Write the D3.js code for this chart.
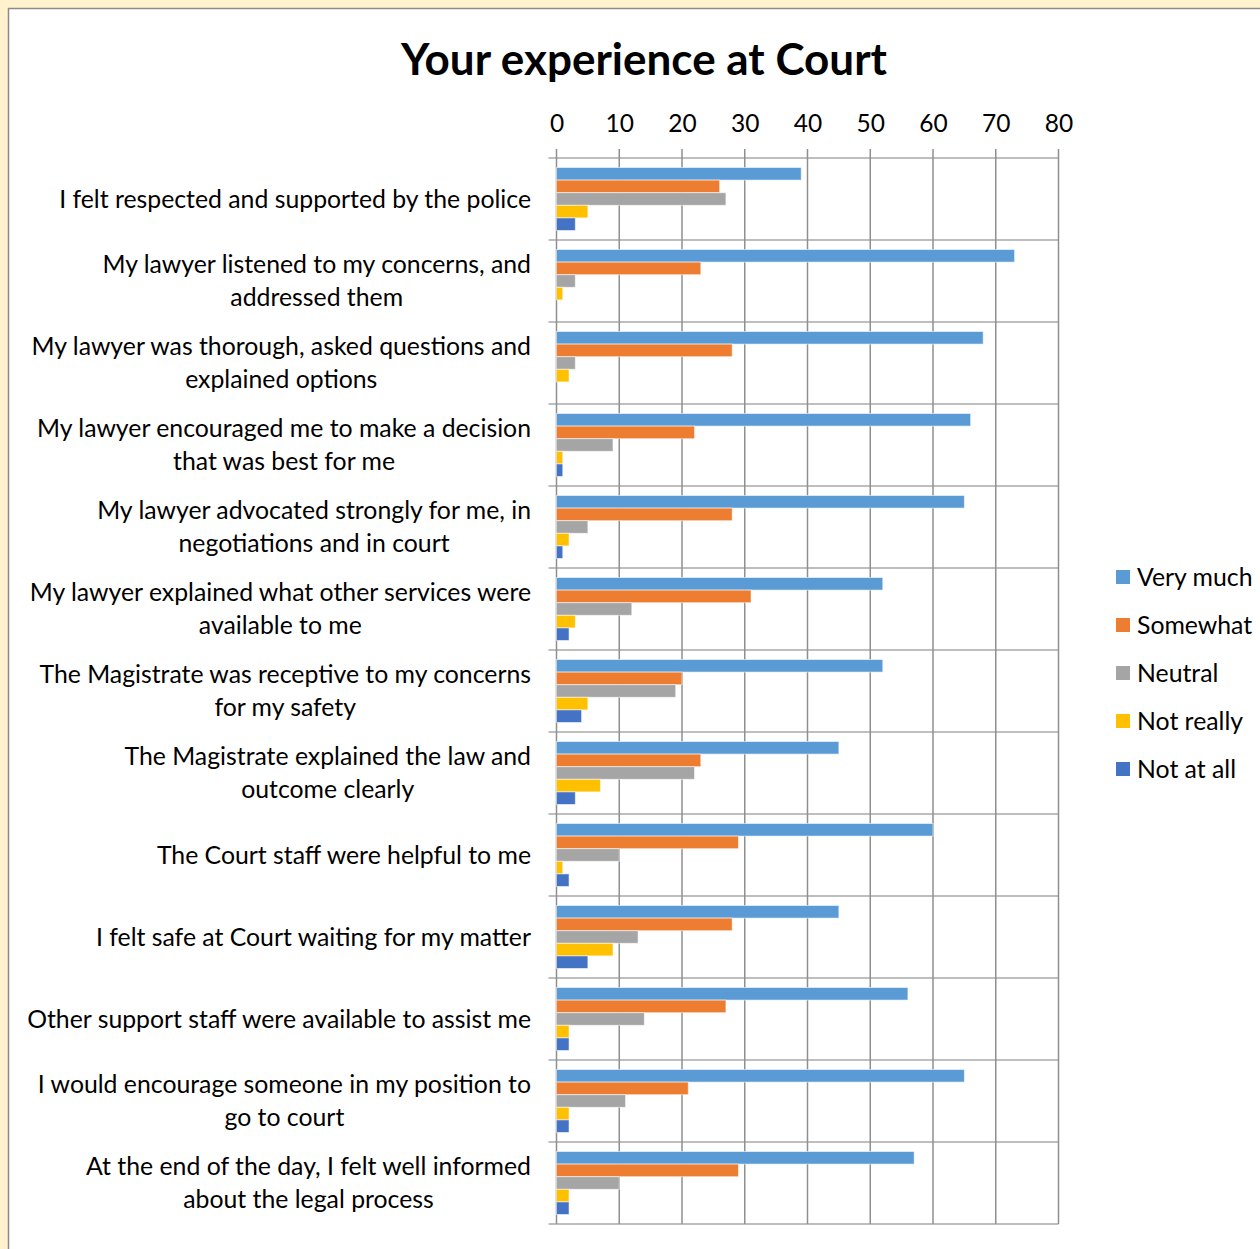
<!DOCTYPE html>
<html>
<head>
<meta charset="utf-8">
<script src="https://cdn.jsdelivr.net/npm/d3@7/dist/d3.min.js"></script>
<style>
  html, body { margin: 0; padding: 0; background: #FFF2CC; }
  svg { display: block; }
  text { font-family: Lato, "Open Sans", sans-serif; fill: #000; }
</style>
</head>
<body>
<svg id="chart" width="1260" height="1249"></svg>
<script>
// Survey questions (line breaks mark where each label wraps)
const categories = [
  "I felt respected and supported by the police",
  "My lawyer listened to my concerns, and\naddressed them",
  "My lawyer was thorough, asked questions and\nexplained options",
  "My lawyer encouraged me to make a decision\nthat was best for me",
  "My lawyer advocated strongly for me, in\nnegotiations and in court",
  "My lawyer explained what other services were\navailable to me",
  "The Magistrate was receptive to my concerns\nfor my safety",
  "The Magistrate explained the law and\noutcome clearly",
  "The Court staff were helpful to me",
  "I felt safe at Court waiting for my matter",
  "Other support staff were available to assist me",
  "I would encourage someone in my position to\ngo to court",
  "At the end of the day, I felt well informed\nabout the legal process"
];

const seriesNames = ["Very much", "Somewhat", "Neutral", "Not really", "Not at all"];
const seriesColors = ["#5B9BD5", "#ED7D31", "#A5A5A5", "#FFC000", "#4472C4"];

const veryMuch  = [39, 73, 68, 66, 65, 52, 52, 45, 60, 45, 56, 65, 57];
const somewhat  = [26, 23, 28, 22, 28, 31, 20, 23, 29, 28, 27, 21, 29];
const neutral   = [27,  3,  3,  9,  5, 12, 19, 22, 10, 13, 14, 11, 10];
const notReally = [ 5,  1,  2,  1,  2,  3,  5,  7,  1,  9,  2,  2,  2];
const notAtAll  = [ 3,  0,  0,  1,  1,  2,  4,  3,  2,  5,  2,  2,  2];
const seriesValues = [veryMuch, somewhat, neutral, notReally, notAtAll];

const tickValues = [0, 10, 20, 30, 40, 50, 60, 70, 80];

const svg = d3.select("#chart");

// panel: white card with a grey edge on the cream page
svg.append("rect")
  .attr("x", 8.5).attr("y", 8.5)
  .attr("width", 1260).attr("height", 1260)
  .attr("fill", "#fff")
  .attr("stroke", "#8a8a8a").attr("stroke-width", 1.5);

svg.append("text")
  .attr("x", 644).attr("y", 75)
  .attr("text-anchor", "middle")
  .attr("font-size", 44).attr("font-weight", 700)
  .text("Your experience at Court");

const x = d3.scaleLinear().domain([0, 80]).range([556.5, 1058.5]);
const y = d3.scaleBand().domain(categories).range([158, 1224]);
const inner = d3.scaleBand().domain(seriesNames)
  .range([9.5, y.bandwidth() - 9.5]);

const plotTop = y.range()[0], plotBottom = y.range()[1];

// category separators with outward ticks
const grid = svg.append("g");
grid.selectAll("line.h")
  .data(categories.concat(["__end"]))
  .join("line")
  .attr("class", "h")
  .attr("x1", x(0) - 8).attr("x2", x(80))
  .attr("y1", (d, i) => plotTop + i * y.step())
  .attr("y2", (d, i) => plotTop + i * y.step())
  .attr("stroke", "#a9a9a9").attr("stroke-width", 1.6);

// value gridlines extending up as ticks
grid.selectAll("line.v")
  .data(tickValues)
  .join("line")
  .attr("class", "v")
  .attr("x1", d => x(d)).attr("x2", d => x(d))
  .attr("y1", plotTop - 9).attr("y2", plotBottom)
  .attr("stroke", "#8f8f8f").attr("stroke-width", 1.5);

// top value axis labels
const xAxis = d3.axisTop(x).tickValues(tickValues).tickSize(0).tickPadding(0);
const ax = svg.append("g").attr("transform", "translate(0,132)").call(xAxis);
ax.select(".domain").remove();
ax.selectAll("text")
  .attr("font-size", 24.5).attr("fill", "#000")
  .attr("font-family", "Lato, 'Open Sans', sans-serif")
  .attr("dy", 0);

// bars
const rows = svg.append("g");
categories.forEach((c, ci) => {
  const g = rows.append("g").attr("transform", `translate(0,${y(c)})`);
  g.selectAll("rect")
    .data(seriesNames.map((s, si) => ({ s, v: seriesValues[si][ci], color: seriesColors[si] })))
    .join("rect")
    .attr("x", x(0))
    .attr("y", d => inner(d.s))
    .attr("height", inner.bandwidth())
    .attr("width", d => x(d.v) - x(0))
    .attr("fill", d => d.color)
    .attr("stroke", d => d.v > 0 ? "#ffffff" : "none")
    .attr("stroke-opacity", 0.55)
    .attr("stroke-width", 1);
});

// category labels: block right aligned, lines centred on each other
const lineH = 33;
categories.forEach(c => {
  const lines = c.split("\n");
  const cy = y(c) + y.bandwidth() / 2;
  const g = svg.append("g");
  const texts = lines.map((ln, i) =>
    g.append("text")
      .attr("font-size", 24.8)
      .attr("y", cy + (i - (lines.length - 1) / 2) * lineH)
      .attr("dy", "0.35em")
      .attr("text-anchor", "middle")
      .text(ln));
  const widths = texts.map(t => t.node().getComputedTextLength());
  const maxW = d3.max(widths);
  texts.forEach(t => t.attr("x", 531 - maxW / 2));
});

// legend
const legend = svg.append("g").attr("transform", "translate(1116,577)");
seriesNames.forEach((s, i) => {
  const g = legend.append("g").attr("transform", `translate(0,${i * 48})`);
  g.append("rect").attr("x", 0).attr("y", -7).attr("width", 14).attr("height", 14)
    .attr("fill", seriesColors[i]);
  g.append("text").attr("x", 21).attr("y", 0).attr("dy", "0.35em")
    .attr("font-size", 24.8).text(s);
});
</script>
</body>
</html>
